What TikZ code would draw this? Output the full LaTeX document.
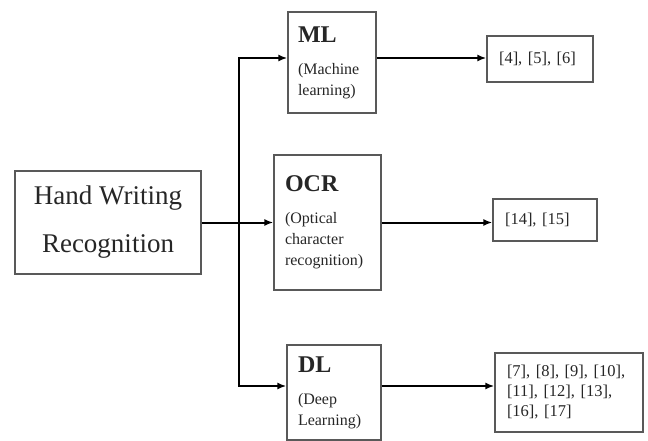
\documentclass[tikz,border=0pt]{standalone}
\usepackage{fontspec}
\setmainfont{Liberation Serif}
\usetikzlibrary{arrows.meta}

\newcommand{\methodtext}[2]{{\fontsize{24}{24}\selectfont\bfseries #1\par}\vspace{11pt}{\fontsize{16}{21}\selectfont #2\par}}

\begin{document}
\begin{tikzpicture}[x=1pt, y=-1pt,
    box/.style={rectangle, draw=black!65, line width=1.3pt, inner sep=0pt, align=left, text=black!85},
    refbox/.style={box, font=\fontsize{16.5}{20}\selectfont},
    link/.style={line width=2pt, -{Latex[length=9pt,width=7pt]}}]
          % Variables
          \def \junx {239}

          \useasboundingbox (0,0) rectangle (648,441);

          % Main box
          \node[box, align=center, minimum width=186, minimum height=103,
                font=\fontsize{27}{48}\selectfont] (hwr) at (108,222.5) {Hand Writing\\Recognition};

          % Method boxes
          \node[box, minimum width=88, minimum height=101, text width=68] (ml) at (332,62.5)
               {\methodtext{ML}{(Machine\\learning)}};
          \node[box, minimum width=107, minimum height=135, text width=85] (ocr) at (327.5,222.5)
               {\methodtext{OCR}{(Optical\\character\\recognition)}};
          \node[box, minimum width=94, minimum height=95, text width=72] (dl) at (334,392.5)
               {\methodtext{DL}{(Deep\\Learning)}};

          % Reference boxes
          \node[refbox, minimum width=106, minimum height=46, text width=82] (r1) at (540,59) {[4], [5], [6]};
          \node[refbox, minimum width=104, minimum height=42, text width=80] (r2) at (545,220) {[14], [15]};
          \node[refbox, minimum width=148, minimum height=79, text width=124] (r3) at (569,392.5)
               {[7], [8], [9], [10],\\{}[11], [12], [13],\\{}[16], [17]};

          % Connectors
          \coordinate (jun) at (\junx,222.5);
          \draw[link] (hwr.east) -- (ocr.west);
          \draw[link] (jun) |- ([yshift=4.5pt]ml.west);
          \draw[link] (jun) |- ([yshift=6.5pt]dl.west);
          \draw[link] ([yshift=4.5pt]ml.east) -- ([yshift=4.5pt]ml.east -| r1.west);
          \draw[link] (ocr.east) -- (ocr.east -| r2.west);
          \draw[link] ([yshift=6.5pt]dl.east) -- ([yshift=6.5pt]dl.east -| r3.west);

        \end{tikzpicture}
\end{document}
